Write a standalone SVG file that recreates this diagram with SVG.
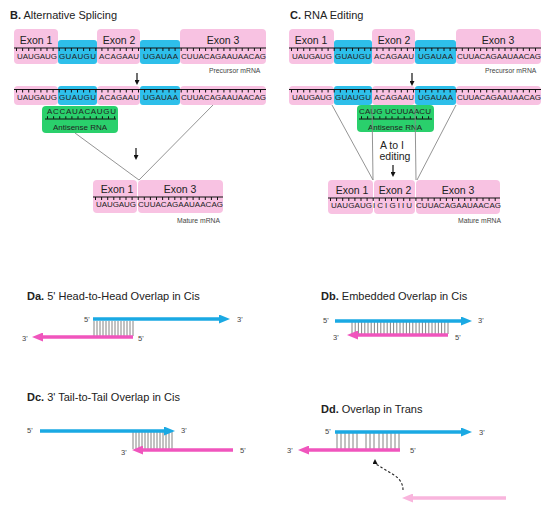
<svg xmlns="http://www.w3.org/2000/svg" width="550" height="512" viewBox="0 0 550 512">
<style>
text{font-family:"Liberation Sans",Arial,sans-serif;fill:#222}
.pk{fill:#f8c2e2}
.bl{fill:#2ebfea}
.gr{fill:#2ad06c}
.ex{font-size:10.5px;text-anchor:middle}
.sq{font-size:8px}
.sm{font-size:6.8px;fill:#444}
.tt{font-size:11px}
.tt tspan.b{font-weight:bold}
.pr{font-size:7.5px;fill:#444}
.base{stroke:#111;stroke-width:1}
.tick{stroke:#111;stroke-width:3;stroke-dasharray:1 5.1}
.atick{stroke:#111;stroke-width:2.5;stroke-dasharray:1 5.1}
.vl{stroke:#888;stroke-width:0.9;fill:none}
.da{stroke:#111;stroke-width:1.2;fill:none}
.hb{stroke:#1aa9e3;stroke-width:3.5;fill:none}
.hp{stroke:#f055bd;stroke-width:3.5;fill:none}
.hl{stroke:#f9b5dd;stroke-width:3.5;fill:none}
.hatch{stroke:#777;stroke-width:0.9;fill:none}
</style>
<defs>
<marker id="mb" viewBox="0 0 11 9" markerWidth="11" markerHeight="9" refX="1" refY="4.5" orient="auto" markerUnits="userSpaceOnUse"><path d="M0,0 L11,4.5 L0,9 z" fill="#1aa9e3"/></marker>
<marker id="mp" viewBox="0 0 11 9" markerWidth="11" markerHeight="9" refX="1" refY="4.5" orient="auto" markerUnits="userSpaceOnUse"><path d="M0,0 L11,4.5 L0,9 z" fill="#f055bd"/></marker>
<marker id="ml" viewBox="0 0 11 9" markerWidth="11" markerHeight="9" refX="1" refY="4.5" orient="auto" markerUnits="userSpaceOnUse"><path d="M0,0 L11,4.5 L0,9 z" fill="#f9b5dd"/></marker>
<marker id="mk" viewBox="0 0 5 5" markerWidth="5" markerHeight="5" refX="1" refY="2.5" orient="auto" markerUnits="userSpaceOnUse"><path d="M0,0 L5,2.5 L0,5 z" fill="#111"/></marker>
</defs>

<!-- Titles -->
<g id="titles">
<text class="tt" x="10" y="19"><tspan class="b">B.</tspan> Alternative Splicing</text>
<text class="tt" x="290" y="19"><tspan class="b">C.</tspan> RNA Editing</text>
<text class="tt" x="27" y="300"><tspan class="b">Da.</tspan> 5' Head-to-Head  Overlap in Cis</text>
<text class="tt" x="321" y="300"><tspan class="b">Db.</tspan> Embedded  Overlap in Cis</text>
<text class="tt" x="27" y="401"><tspan class="b">Dc.</tspan> 3' Tail-to-Tail Overlap in Cis</text>
<text class="tt" x="321" y="413"><tspan class="b">Dd.</tspan> Overlap in Trans</text>
</g>

<!-- B precursor -->
<g id="b-precursor">
<rect class="pk" x="14" y="29" width="44" height="35" rx="4"/>
<rect class="bl" x="58" y="40" width="39" height="24" rx="3"/>
<rect class="pk" x="97" y="29" width="43" height="35" rx="4"/>
<rect class="bl" x="140" y="40" width="40" height="24" rx="3"/>
<rect class="pk" x="180" y="29" width="86" height="35" rx="4"/>
<text class="ex" x="36" y="44">Exon 1</text>
<text class="ex" x="119" y="44">Exon 2</text>
<text class="ex" x="223" y="44">Exon 3</text>
<line class="base" x1="14" y1="48" x2="266" y2="48"/>
<line class="tick" x1="16" y1="49.5" x2="266" y2="49.5"/>
<text class="sq" x="17" y="59" textLength="40">UAUGAUG</text>
<text class="sq" x="59" y="59" textLength="37">GUAUGU</text>
<text class="sq" x="99" y="59" textLength="40">ACAGAAU</text>
<text class="sq" x="143" y="59" textLength="35">UGAUAA</text>
<text class="sq" x="181" y="59" textLength="85">CUUACAGAAUAACAG</text>
<text class="sm" x="209" y="73">Precursor mRNA</text>
</g>

<g id="b-bound">
<rect class="pk" x="14" y="86" width="44" height="19" rx="4"/>
<rect class="bl" x="58" y="86" width="39" height="19" rx="3"/>
<rect class="pk" x="97" y="86" width="43" height="19" rx="4"/>
<rect class="bl" x="140" y="86" width="40" height="19" rx="3"/>
<rect class="pk" x="180" y="86" width="86" height="19" rx="4"/>
<line class="base" x1="14" y1="89.5" x2="266" y2="89.5"/>
<line class="tick" x1="16" y1="91" x2="266" y2="91"/>
<text class="sq" x="17" y="100" textLength="40">UAUGAUG</text>
<text class="sq" x="59" y="100" textLength="37">GUAUGU</text>
<text class="sq" x="99" y="100" textLength="40">ACAGAAU</text>
<text class="sq" x="143" y="100" textLength="35">UGAUAA</text>
<text class="sq" x="181" y="100" textLength="85">CUUACAGAAUAACAG</text>
</g>

<g id="b-antisense">
<rect class="gr" x="42" y="106" width="76" height="27" rx="4"/>
<text class="sq" x="47" y="114" textLength="69" fill="#0b3a1c">ACCAUACAUGU</text>
<line class="base" x1="45" y1="119" x2="116" y2="119"/>
<line class="atick" x1="47" y1="117.6" x2="116" y2="117.6"/>
<text class="sq" x="80" y="130" text-anchor="middle">Antisense RNA</text>
</g>

<g id="b-mature">
<rect class="pk" x="93" y="180" width="44" height="33" rx="4"/>
<rect class="pk" x="138" y="180" width="85" height="33" rx="4"/>
<text class="ex" x="117" y="193">Exon 1</text>
<text class="ex" x="180" y="193">Exon 3</text>
<line class="base" x1="93" y1="197" x2="223" y2="197"/>
<line class="tick" x1="95" y1="198.5" x2="223" y2="198.5"/>
<text class="sq" x="96" y="207" textLength="40">UAUGAUG</text>
<text class="sq" x="138" y="207" textLength="85">CUUACAGAAUAACAG</text>
<text class="sm" x="177" y="223">Mature mRNA</text>
</g>

<!-- C precursor -->
<g id="c-precursor">
<rect class="pk" x="289" y="29" width="45" height="35" rx="4"/>
<rect class="bl" x="334" y="40" width="38" height="24" rx="3"/>
<rect class="pk" x="372" y="29" width="43" height="35" rx="4"/>
<rect class="bl" x="415" y="40" width="41" height="24" rx="3"/>
<rect class="pk" x="456" y="29" width="85" height="35" rx="4"/>
<text class="ex" x="311" y="44">Exon 1</text>
<text class="ex" x="394" y="44">Exon 2</text>
<text class="ex" x="498" y="44">Exon 3</text>
<line class="base" x1="289" y1="48" x2="541" y2="48"/>
<line class="tick" x1="291" y1="49.5" x2="541" y2="49.5"/>
<text class="sq" x="292" y="59" textLength="40">UAUGAUG</text>
<text class="sq" x="335" y="59" textLength="36">GUAUGU</text>
<text class="sq" x="374" y="59" textLength="40">ACAGAAU</text>
<text class="sq" x="418" y="59" textLength="35">UGAUAA</text>
<text class="sq" x="457" y="59" textLength="84">CUUACAGAAUAACAG</text>
<text class="sm" x="485" y="73">Precursor mRNA</text>
</g>

<g id="c-bound">
<rect class="pk" x="289" y="86" width="45" height="19" rx="4"/>
<rect class="bl" x="334" y="86" width="38" height="19" rx="3"/>
<rect class="pk" x="372" y="86" width="43" height="19" rx="4"/>
<rect class="bl" x="415" y="86" width="41" height="19" rx="3"/>
<rect class="pk" x="456" y="86" width="85" height="19" rx="4"/>
<line class="base" x1="289" y1="89.5" x2="541" y2="89.5"/>
<line class="tick" x1="291" y1="91" x2="541" y2="91"/>
<text class="sq" x="292" y="100" textLength="40">UAUGAUG</text>
<text class="sq" x="335" y="100" textLength="36">GUAUGU</text>
<text class="sq" x="374" y="100" textLength="40">ACAGAAU</text>
<text class="sq" x="418" y="100" textLength="35">UGAUAA</text>
<text class="sq" x="457" y="100" textLength="84">CUUACAGAAUAACAG</text>
</g>

<g id="c-antisense">
<rect class="gr" x="357" y="105" width="77" height="27" rx="4"/>
<text class="sq" x="359" y="114" textLength="72" fill="#0b3a1c">CAUG UCUUAACU</text>
<line class="base" x1="359" y1="119" x2="432" y2="119"/>
<line class="atick" x1="361" y1="117.6" x2="432" y2="117.6"/>
<text class="sq" x="395" y="130" text-anchor="middle">Antisense RNA</text>
</g>

<g id="c-edit-label">
<text x="392" y="149" font-size="10.5" text-anchor="middle">A to I</text>
<text x="395" y="160" font-size="10.5" text-anchor="middle">editing</text>
</g>

<g id="c-mature">
<rect class="pk" x="328" y="180" width="45" height="34" rx="4"/>
<rect class="pk" x="374" y="180" width="41" height="34" rx="4"/>
<rect class="pk" x="416" y="180" width="84" height="34" rx="4"/>
<text class="ex" x="352" y="194">Exon 1</text>
<text class="ex" x="395" y="194">Exon 2</text>
<text class="ex" x="458" y="194">Exon 3</text>
<line class="base" x1="328" y1="198" x2="500" y2="198"/>
<line class="tick" x1="330" y1="199.5" x2="500" y2="199.5"/>
<text class="sq" x="331" y="208" textLength="41">UAUGAUG</text>
<text class="sq" x="373" y="208" textLength="39">ICIGIIU</text>
<text class="sq" x="416" y="208" textLength="85">CUUACAGAAUAACAG</text>
<text class="sm" x="458" y="223">Mature mRNA</text>
</g>

<!-- D panels -->
<g id="da">
<path class="hatch" d="M94,321V336M97,321V336M100,321V336M103,321V336M106,321V336M109,321V336M112,321V336M115,321V336M118,321V336M121,321V336M124,321V336M127,321V336M130,321V336M133,321V336"/>
<line class="hb" x1="93" y1="319" x2="220" y2="319" marker-end="url(#mb)"/>
<line class="hp" x1="133" y1="337" x2="42" y2="337" marker-end="url(#mp)"/>
<text class="pr" x="84" y="322">5'</text>
<text class="pr" x="237" y="322">3'</text>
<text class="pr" x="22" y="341">3'</text>
<text class="pr" x="138" y="341">5'</text>
</g>

<g id="db">
<path class="hatch" d="M352,322V334M355.2,322V334M358.4,322V334M361.6,322V334M364.8,322V334M368,322V334M371.2,322V334M374.4,322V334M377.6,322V334M380.8,322V334M384,322V334M387.2,322V334M390.4,322V334M393.6,322V334M396.8,322V334M400,322V334M403.2,322V334M406.4,322V334M409.6,322V334M412.8,322V334M416,322V334M419.2,322V334M422.4,322V334M425.6,322V334M428.8,322V334M432,322V334M435.2,322V334M438.4,322V334M441.6,322V334M444.8,322V334M448,322V334"/>
<line class="hb" x1="335" y1="321" x2="462" y2="321" marker-end="url(#mb)"/>
<line class="hp" x1="448" y1="335" x2="357" y2="335" marker-end="url(#mp)"/>
<text class="pr" x="323" y="323">5'</text>
<text class="pr" x="478" y="323">3'</text>
<text class="pr" x="333" y="340">3'</text>
<text class="pr" x="455" y="340">5'</text>
</g>

<g id="dc">
<path class="hatch" d="M133,432V449M136,432V449M139,432V449M142,432V449M145,432V449M148,432V449M151,432V449M154,432V449M157,432V449M160,432V449M163,432V449M166,432V449M169,432V449M172,432V449"/>
<line class="hb" x1="40" y1="431" x2="165" y2="431" marker-end="url(#mb)"/>
<line class="hp" x1="233" y1="450" x2="142" y2="450" marker-end="url(#mp)"/>
<text class="pr" x="27" y="433">5'</text>
<text class="pr" x="181" y="433">3'</text>
<text class="pr" x="121" y="455">3'</text>
<text class="pr" x="240" y="453">5'</text>
</g>

<g id="dd">
<path class="hatch" d="M337,433V449M341,433V449M345,433V449M349,433V449M353,433V449M357,433V449M366,433V449M370,433V449M374,433V449M379,433V449M383,433V449M387,433V449M391,433V449M395,433V449M399,433V449"/>
<line class="hb" x1="335" y1="432" x2="462" y2="432" marker-end="url(#mb)"/>
<line class="hp" x1="400" y1="450" x2="308" y2="450" marker-end="url(#mp)"/>
<text class="pr" x="325" y="434">5'</text>
<text class="pr" x="479" y="435">3'</text>
<text class="pr" x="287" y="453">3'</text>
<text class="pr" x="410" y="453">5'</text>
</g>

<g id="dd-free">
<line class="hl" x1="506" y1="498" x2="412" y2="498" marker-end="url(#ml)"/>
</g>

<!-- Connectors -->
<g id="connectors">
<line class="da" x1="137" y1="73" x2="137" y2="81" marker-end="url(#mk)"/>
<line class="vl" x1="75" y1="133" x2="139" y2="180"/>
<line class="vl" x1="213" y1="105" x2="139" y2="180"/>
<line class="da" x1="136" y1="148" x2="136" y2="156" marker-end="url(#mk)"/>
<line class="da" x1="412" y1="73" x2="412" y2="82" marker-end="url(#mk)"/>
<line class="vl" x1="332" y1="105" x2="373" y2="180"/>
<line class="vl" x1="372" y1="105" x2="373" y2="180"/>
<line class="vl" x1="415" y1="105" x2="416" y2="180"/>
<line class="vl" x1="456" y1="105" x2="417" y2="180"/>
<line class="da" x1="393" y1="165" x2="393" y2="173" marker-end="url(#mk)"/>
<path d="M403,490 C403,478 392,474 384,469 C378,465 375,464 375,463" fill="none" stroke="#222" stroke-width="1.1" stroke-dasharray="2.5 2" marker-end="url(#mk)"/>
</g>
</svg>
